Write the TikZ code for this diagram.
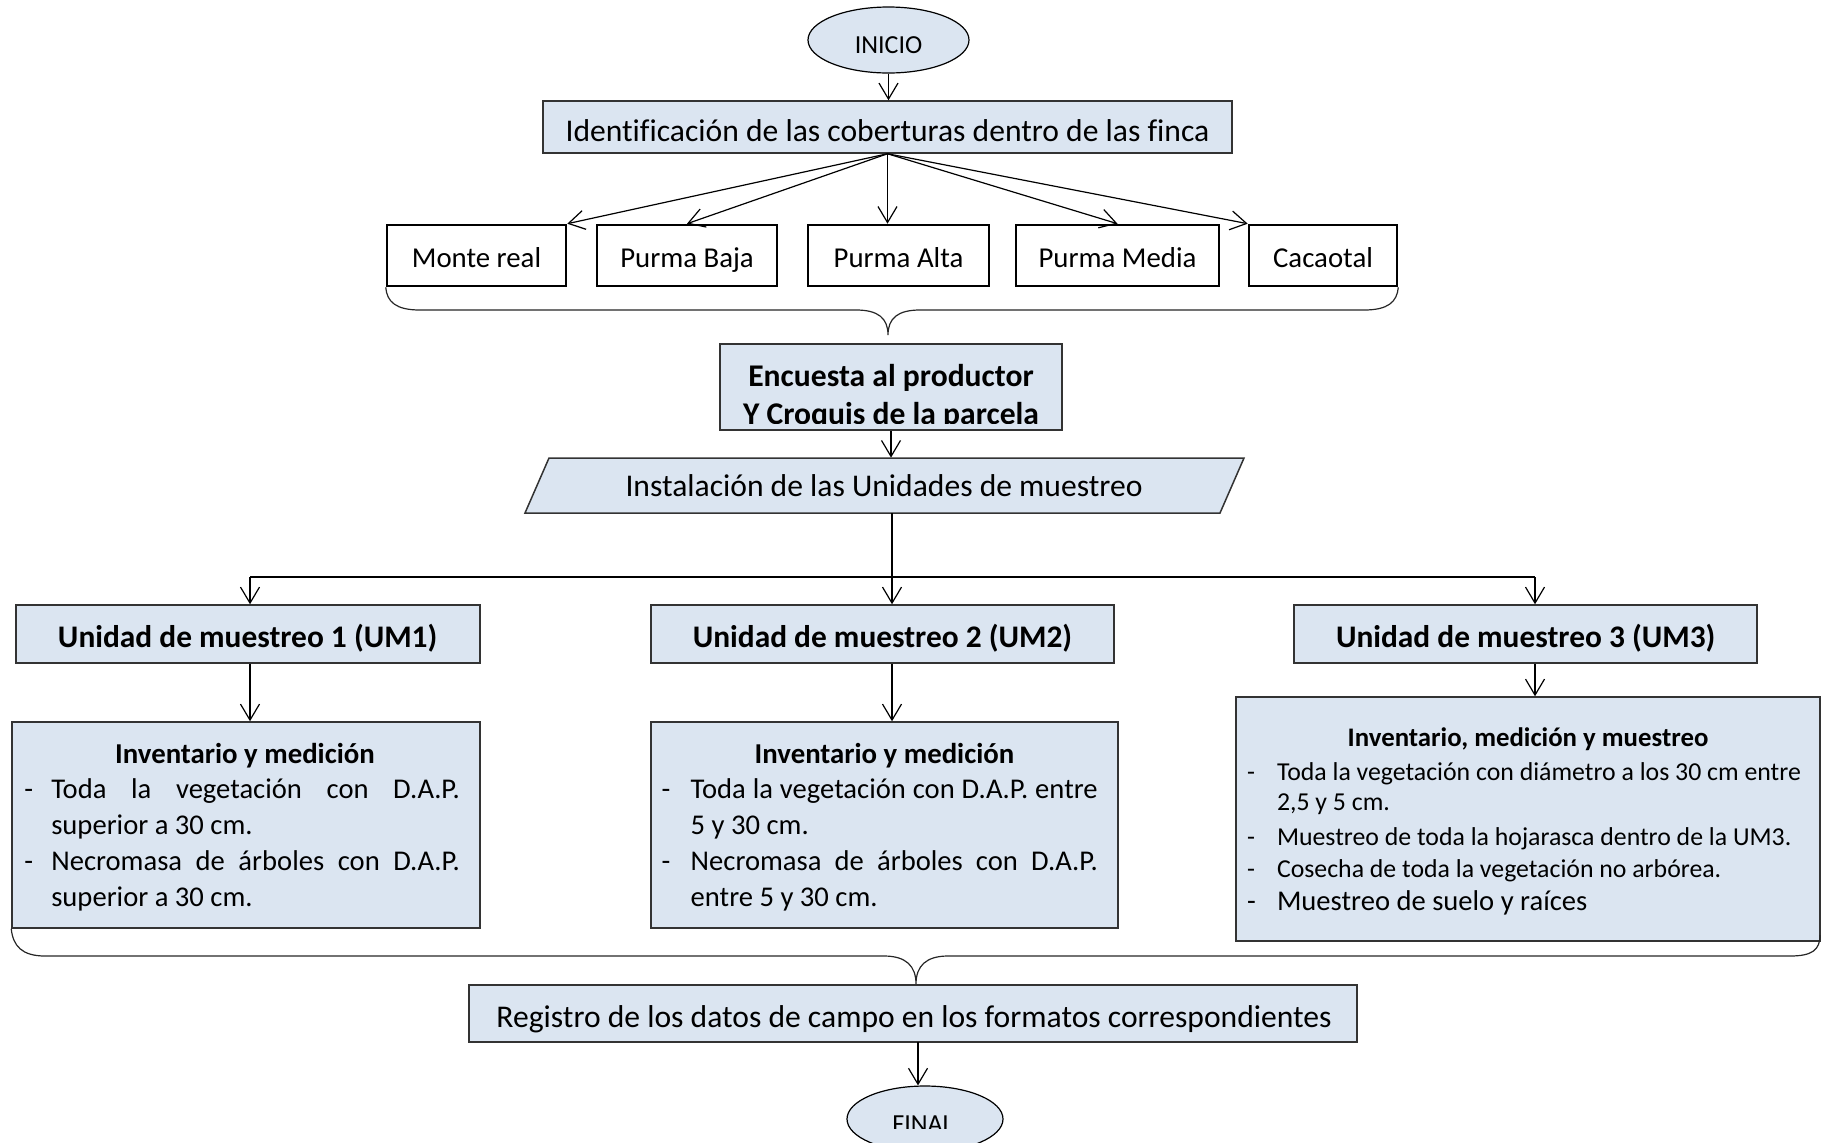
\documentclass[tikz,border=0pt]{standalone}
\usepackage{fontspec}
\setmainfont{Carlito}[Ligatures=NoCommon]
\usetikzlibrary{arrows.meta,shapes.geometric,fit}
\definecolor{boxfill}{HTML}{DBE5F1}
\definecolor{boxline}{HTML}{333333}
\tikzset{
  panel/.style={draw=boxline, fill=boxfill, line width=0.75pt, inner sep=0pt},
  plainbox/.style={draw=black, fill=white, line width=1.3pt, inner sep=0pt},
  oval/.style={ellipse, draw=black, fill=boxfill, line width=0.6pt, inner sep=0pt},
  lbl/.style={inner sep=0pt, outer sep=0pt, anchor=base},
  lblw/.style={inner sep=0pt, outer sep=0pt, anchor=base west},
  conn/.style={line width=0.6pt, draw=black, -{Straight Barb[length=8pt,width=9.5pt,line width=0.6pt]}},
  link/.style={line width=0.6pt, draw=black},
  brace/.style={line width=0.6pt, draw=black!85},
  fsmall/.style={font=\fontsize{13}{15.6}\selectfont},
  fbig/.style={font=\fontsize{15.8}{19}\selectfont},
  fbox/.style={font=\fontsize{14.4}{17}\selectfont},
  fbold/.style={font=\bfseries\fontsize{15.8}{19}\selectfont},
  fum/.style={font=\bfseries\fontsize{15.7}{19}\selectfont},
  ftitle/.style={font=\bfseries\fontsize{14.4}{17}\selectfont},
  ftitleS/.style={font=\bfseries\fontsize{13.4}{16}\selectfont},
  fitem/.style={font=\fontsize{14.3}{17}\selectfont},
  fitemS/.style={font=\fontsize{12.9}{15.5}\selectfont},
}
\begin{document}
\begin{tikzpicture}[x=0.5pt,y=-0.5pt]
\useasboundingbox (0,0) rectangle (1825,1142);
\clip (0,0) rectangle (1825,1142);

% ---------- start ----------
\node[oval, minimum width=80.5pt, minimum height=33pt] (inicio) at (888.5,40) {};
\node[lbl, fsmall] (inicioT) at (888.5,53) {INICIO};

\node[panel, fit={(543,101) (1232,153)}] (idbox) {};
\node[lbl, fbig] (idT) at (887.5,141) {Identificación de las coberturas dentro de las finca};

% ---------- cover types ----------
\node[plainbox, fit={(387,225) (566,286)}] (mr) {};
\node[plainbox, fit={(597,225) (777,286)}] (pb) {};
\node[plainbox, fit={(808,225) (989,286)}] (pa) {};
\node[plainbox, fit={(1016,225) (1219,286)}] (pm) {};
\node[plainbox, fit={(1249,225) (1397,286)}] (ca) {};
\node[lbl, fbox] (mrT) at (476.5,267) {Monte real};
\node[lbl, fbox] (pbT) at (687,267) {Purma Baja};
\node[lbl, fbox] (paT) at (898.5,267) {Purma Alta};
\node[lbl, fbox] (pmT) at (1117.5,267) {Purma Media};
\node[lbl, fbox] (caT) at (1323,267) {Cacaotal};

\draw[conn] (inicio.south) -- (idbox.north -| inicio.south);
\draw[conn] (idbox.south) -- (mr.north east);
\draw[conn] (idbox.south) -- (pb.north);
\draw[conn] (idbox.south) -- (idbox.south |- pa.north);
\draw[conn] (idbox.south) -- (pm.north);
\draw[conn] (idbox.south) -- (ca.north west);

% brace gathering the cover types
\draw[brace] (mr.south west) .. controls (387,302) and (396,310) .. (420,310)
  -- (856,310) .. controls (878,310) and (888,318) .. (888,335)
  .. controls (888,318) and (898,310) .. (920,310)
  -- (1364,310) .. controls (1388,310) and (1397,302) .. (ca.south east);

% ---------- survey ----------
\node[panel, fit={(720,344) (1062,430)}] (enc) {};
\begin{scope}
  \clip (720,344) rectangle (1062,423);
  \node[lbl, fbold] (encA) at (891,386) {Encuesta al productor};
  \node[lbl, fbold] (encB) at (891,424) {Y Croquis de la parcela};
\end{scope}

% ---------- installation ----------
\coordinate (p1) at (549,458);
\coordinate (p2) at (1244,458);
\coordinate (p3) at (1220,513);
\coordinate (p4) at (525,513);
\draw[draw=boxline, fill=boxfill, line width=0.75pt] (p1) -- (p2) -- (p3) -- (p4) -- cycle;
\node[fit={(549,458) (1220,513)}, inner sep=0pt] (inst) {};
\node[lbl, fbig] (instT) at (884,496) {Instalación de las Unidades de muestreo};

\draw[conn] (enc.south) -- (enc.south |- inst.north);

% ---------- sampling units ----------
\node[panel, fit={(16,605) (480,663)}] (um1) {};
\node[panel, fit={(651,605) (1114,663)}] (um2) {};
\node[panel, fit={(1294,605) (1757,663)}] (um3) {};
\node[lbl, fum] (um1T) at (247.7,647) {Unidad de muestreo 1 (UM1)};
\node[lbl, fum] (um2T) at (882.5,647) {Unidad de muestreo 2 (UM2)};
\node[lbl, fum] (um3T) at (1525.7,647) {Unidad de muestreo 3 (UM3)};

\coordinate (trunk) at (892,513);
\coordinate (spL) at (250,577);
\coordinate (spR) at (1535,577);
\draw[link] (spL) -- (spR);
\draw[conn] (trunk) -- (trunk |- um2.north);
\draw[conn] (spL) -- (spL |- um1.north);
\draw[conn] (spR) -- (spR |- um3.north);

% ---------- inventory boxes ----------
\node[panel, fit={(12,722) (480,928)}] (inv1) {};
\node[panel, fit={(651,722) (1118,928)}] (inv2) {};
\node[panel, fit={(1236,697) (1820,941)}] (inv3) {};

\draw[conn] (um1.south -| spL) -- (spL |- inv1.north);
\draw[conn] (um2.south -| trunk) -- (trunk |- inv2.north);
\draw[conn] (um3.south -| spR) -- (spR |- inv3.north);

% UM1
\node[lbl, ftitle] (inv1T) at (245,763) {Inventario y medición};
\node[lblw, fitem] (inv1d1) at (24.5,798) {-};
\node[lblw, fitem] (inv1a) at (51.3,798) {\makebox[204.3pt][s]{Toda la vegetación con D.A.P.}};
\node[lblw, fitem] (inv1b) at (51.3,834) {superior a 30 cm.};
\node[lblw, fitem] (inv1d2) at (24.5,870) {-};
\node[lblw, fitem] (inv1c) at (51.3,870) {\makebox[204.3pt][s]{Necromasa de árboles con D.A.P.}};
\node[lblw, fitem] (inv1e) at (51.3,906) {superior a 30 cm.};

% UM2
\node[lbl, ftitle] (inv2T) at (884.5,763) {Inventario y medición};
\node[lblw, fitem] (inv2d1) at (661.7,798) {-};
\node[lblw, fitem] (inv2a) at (690.7,798) {\makebox[203.5pt][s]{Toda la vegetación con D.A.P. entre}};
\node[lblw, fitem] (inv2b) at (690.7,834) {5 y 30 cm.};
\node[lblw, fitem] (inv2d2) at (661.7,870) {-};
\node[lblw, fitem] (inv2c) at (690.7,870) {\makebox[203.5pt][s]{Necromasa de árboles con D.A.P.}};
\node[lblw, fitem] (inv2e) at (690.7,906) {entre 5 y 30 cm.};

% UM3
\node[lbl, ftitleS] (inv3T) at (1528,746) {Inventario, medición y muestreo};
\node[lblw, fitemS] (inv3d1) at (1247,780) {-};
\node[lblw, fitemS] (inv3a) at (1277,780) {Toda la vegetación con diámetro a los 30 cm entre};
\node[lblw, fitemS] (inv3b) at (1277,810) {2,5 y 5 cm.};
\node[lblw, fitemS] (inv3d2) at (1247,845) {-};
\node[lblw, fitemS] (inv3c) at (1277,845) {Muestreo de toda la hojarasca dentro de la UM3.};
\node[lblw, fitemS] (inv3d3) at (1247,877) {-};
\node[lblw, fitemS] (inv3e) at (1277,877) {Cosecha de toda la vegetación no arbórea.};
\node[lblw, fitem] (inv3d4) at (1247,910) {-};
\node[lblw, fitem] (inv3f) at (1277,910) {Muestreo de suelo y raíces};

% brace gathering the three units
\draw[brace] (inv1.south west) .. controls (13,946) and (22,956) .. (45,956)
  -- (884,956) .. controls (906,956) and (916,966) .. (916,984)
  .. controls (916,966) and (926,956) .. (948,956)
  -- (1790,956) .. controls (1812,956) and (1820,950) .. (1820,935);

% ---------- record and end ----------
\node[panel, fit={(469,985) (1357,1042)}] (reg) {};
\node[lbl, fbig] (regT) at (914,1027) {Registro de los datos de campo en los formatos correspondientes};

\node[oval, minimum width=78pt, minimum height=33pt] (fin) at (925,1119) {};
\begin{scope}
  \clip (847,1086) rectangle (1003,1128);
  \node[lbl, fsmall] (finT) at (923,1132) {FINAL};
\end{scope}

\coordinate (regout) at (918,1042);
\draw[conn] (regout) -- (regout |- fin.north);
\end{tikzpicture}
\end{document}
